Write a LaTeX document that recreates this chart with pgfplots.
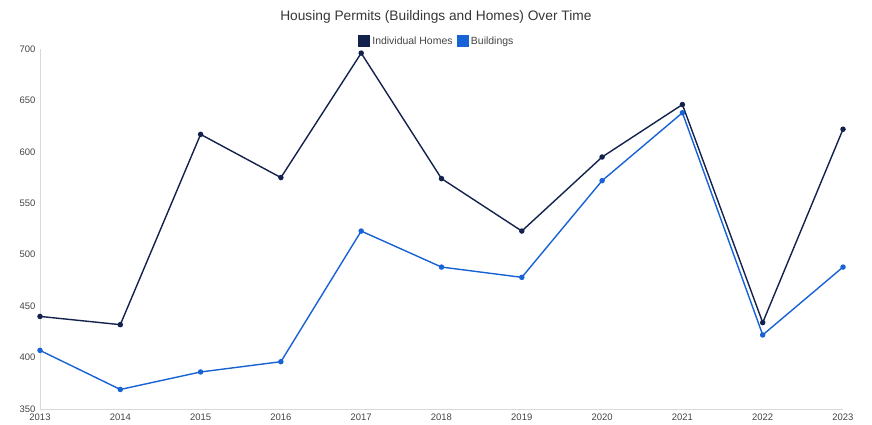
\documentclass[border=0pt]{standalone}
\usepackage{pgfplots}
\pgfplotsset{compat=1.18}
\usepackage{fontspec}
\setmainfont{Liberation Sans}
\definecolor{navy}{HTML}{13224D}
\definecolor{bblue}{HTML}{1762D4}
\definecolor{axgray}{HTML}{D9D9D9}
\definecolor{txtgray}{HTML}{444444}
\begin{document}
\begin{tikzpicture}[x=1bp,y=1bp]
\useasboundingbox (-40,-15) rectangle (832,409);
\begin{axis}[
  at={(0,0)}, anchor=south west,
  scale only axis, width=803bp, height=360bp,
  xmin=2013, xmax=2023, ymin=350, ymax=700,
  xtick={2013,...,2023}, ytick={350,400,...,700},
  x tick label style={/pgf/number format/1000 sep={}},
  /pgf/number format/assume math mode=true,
  tick label style={font=\fontsize{9.5}{11}\selectfont, text=txtgray},
  axis x line*=bottom, axis y line*=left,
  axis line style={axgray, line width=0.8bp},
  major tick length=0pt,
  xticklabel style={yshift=-1.5bp},
  yticklabel style={xshift=-1bp},
  clip=false,
  title={Housing Permits (Buildings and Homes) Over Time},
  title style={font=\fontsize{13.8}{15}\selectfont, text=txtgray!80!black, at={(0.493,1)}, anchor=south, yshift=16bp},
  legend style={at={(0.494,1)}, anchor=south, yshift=0bp, draw=none, font=\fontsize{10.5}{12}\selectfont, text=txtgray, legend columns=2, /tikz/every even column/.append style={column sep=2bp}, inner sep=1bp},
  legend image code/.code={\fill[#1] (0bp,-5.5bp) rectangle (11bp,5.5bp);},
]
\addplot[navy, line width=1.4bp, mark=*, mark size=2bp, mark options={fill=navy}] coordinates {
(2013,440) (2014,432) (2015,617) (2016,575) (2017,696) (2018,574) (2019,523) (2020,595) (2021,646) (2022,434) (2023,622)};
\addlegendentry{Individual Homes}
\addplot[bblue, line width=1.4bp, mark=*, mark size=2bp, mark options={fill=bblue}] coordinates {
(2013,407) (2014,369) (2015,386) (2016,396) (2017,523) (2018,488) (2019,478) (2020,572) (2021,638) (2022,422) (2023,488)};
\addlegendentry{Buildings}
\end{axis}
\end{tikzpicture}
\end{document}
